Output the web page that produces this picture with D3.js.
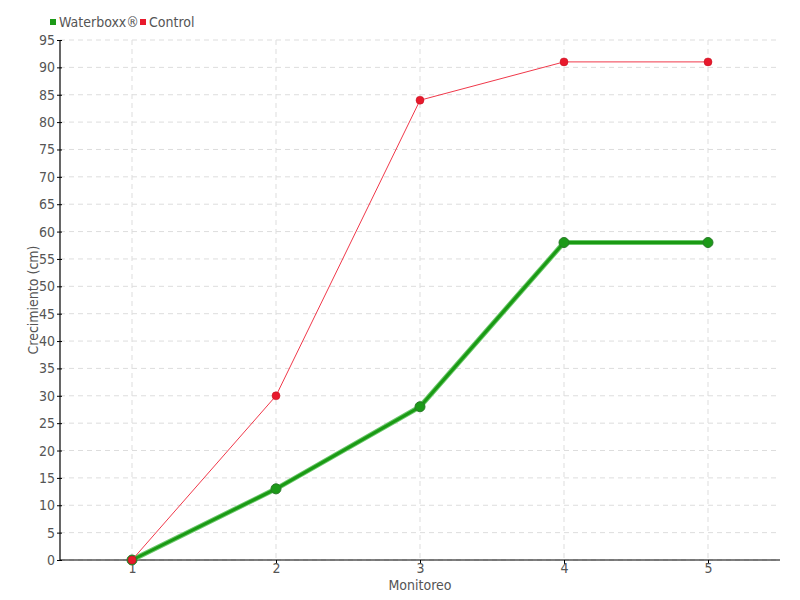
<!DOCTYPE html>
<html>
<head>
<meta charset="utf-8">
<script src="https://cdn.jsdelivr.net/npm/d3@7"></script>
<style>
  body { margin: 0; background: #fff; }
  svg text { font-family: "DejaVu Sans Condensed", "Liberation Sans Narrow", sans-serif; fill: #555; }
</style>
</head>
<body>
<svg id="chart" width="800" height="600"></svg>
<script>
"use strict";

var monitoreo = [1, 2, 3, 4, 5];
var waterboxx = [0, 13, 28, 58, 58];
var control = [0, 30, 84, 91, 91];
var yTicks = d3.range(0, 100, 5);

var svg = d3.select('#chart');
var margin = { top: 40, right: 20, bottom: 40, left: 60 };
var width = 800 - margin.left - margin.right;
var height = 600 - margin.top - margin.bottom;

var x = d3.scaleLinear().domain([0.5, 5.5]).range([0, width]);
var y = d3.scaleLinear().domain([0, 95]).range([height, 0]);

var g = svg.append('g')
	.attr('transform', 'translate(' + margin.left + ',' + margin.top + ')');

// grid lines
g.selectAll('.grid-y').data(yTicks).enter()
	.append('line')
	.attr('x1', 0).attr('x2', width)
	.attr('y1', function(d) { return y(d); })
	.attr('y2', function(d) { return y(d); })
	.attr('stroke', '#ddd')
	.attr('stroke-dasharray', '5,4');
g.selectAll('.grid-x').data(monitoreo).enter()
	.append('line')
	.attr('x1', function(d) { return x(d); })
	.attr('x2', function(d) { return x(d); })
	.attr('y1', 0).attr('y2', height)
	.attr('stroke', '#ddd')
	.attr('stroke-dasharray', '5,4');

// axes
var yaxis = d3.axisLeft(y).tickValues(yTicks).tickFormat(d3.format('d')).tickSize(5).tickPadding(0);
var yaxisG = g.append('g').call(yaxis);
yaxisG.selectAll('.tick line').attr('transform', 'translate(2,0)');
var xaxis = d3.axisBottom(x).tickValues(monitoreo).tickFormat(d3.format('d')).tickSize(4).tickPadding(-1);
var xaxisG = g.append('g').attr('transform', 'translate(0,' + height + ')').call(xaxis);
xaxisG.select('.domain').attr('d', 'M0,0H' + width);
yaxisG.select('.domain').attr('d', 'M0,' + height + 'V0');
g.selectAll('.domain').attr('stroke', '#000').attr('stroke-width', 1.2);
g.selectAll('.tick line').attr('stroke', '#000');
g.selectAll('.tick text').style('font-size', '14px').attr('fill', '#555');

// lines
var line = d3.line()
	.x(function(d, i) { return x(monitoreo[i]); })
	.y(function(d) { return y(d); });

g.append('path').datum(waterboxx)
	.attr('d', line)
	.attr('fill', 'none')
	.attr('stroke', '#6cc86c')
	.attr('stroke-width', 5);
g.append('path').datum(waterboxx)
	.attr('d', line)
	.attr('fill', 'none')
	.attr('stroke', '#1a9a14')
	.attr('stroke-width', 3);
g.selectAll('.pt-w').data(waterboxx).enter()
	.append('circle')
	.attr('cx', function(d, i) { return x(monitoreo[i]); })
	.attr('cy', function(d) { return y(d); })
	.attr('r', 5)
	.attr('fill', '#1c9a18')
	.attr('stroke', '#2a7a2a')
	.attr('stroke-width', 1);

g.append('path').datum(control)
	.attr('d', line)
	.attr('fill', 'none')
	.attr('stroke', '#f0384a')
	.attr('stroke-width', 1);
g.selectAll('.pt-c').data(control).enter()
	.append('circle')
	.attr('cx', function(d, i) { return x(monitoreo[i]); })
	.attr('cy', function(d) { return y(d); })
	.attr('r', 4)
	.attr('fill', '#e8192c')
	.attr('stroke', '#c01020')
	.attr('stroke-width', 0.5);

// axis titles
svg.append('text')
	.attr('x', margin.left + width / 2)
	.attr('y', 590)
	.attr('text-anchor', 'middle')
	.style('font-size', '14px')
	.text('Monitoreo');
svg.append('text')
	.attr('transform', 'translate(38,' + (margin.top + height / 2) + ') rotate(-90)')
	.attr('text-anchor', 'middle')
	.style('font-size', '14px')
	.text('Crecimiento (cm)');

// legend
var legend = [
	{ name: 'Waterboxx®', color: '#1c9a18', x: 50 },
	{ name: 'Control', color: '#e8192c', x: 140 }
];
var lg = svg.selectAll('.legend').data(legend).enter()
	.append('g')
	.attr('transform', function(d) { return 'translate(' + d.x + ',0)'; });
lg.append('rect')
	.attr('x', 0).attr('y', 19)
	.attr('width', 6).attr('height', 6)
	.attr('fill', function(d) { return d.color; });
lg.append('text')
	.attr('x', 9).attr('y', 27)
	.style('font-size', '14px')
	.text(function(d) { return d.name; });
</script>
</body>
</html>
